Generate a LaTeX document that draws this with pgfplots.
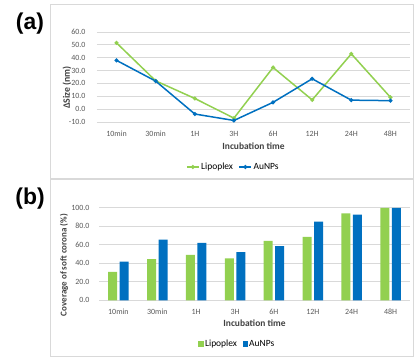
\documentclass[border=0pt]{standalone}
\usepackage{pgfplots}
\pgfplotsset{compat=1.18}
\usepackage{fontspec}
\setmainfont{Carlito}
\newfontfamily\labfont{Liberation Sans}
\definecolor{lgreen}{HTML}{92D050}
\definecolor{lblue}{HTML}{0070C0}
\definecolor{gridc}{HTML}{D9D9D9}
\definecolor{framec}{HTML}{D9D9D9}
\definecolor{tickc}{HTML}{595959}
\definecolor{titc}{HTML}{404040}
\begin{document}
\begin{tikzpicture}
\path[use as bounding box] (0,0) rectangle (417bp,-357bp);
\draw[framec, line width=0.8bp] (50.5bp,-4bp) rectangle (413.5bp,-178bp);
\draw[framec, line width=0.8bp] (50.5bp,-179.5bp) rectangle (413.5bp,-356.5bp);
\node[font=\labfont\bfseries\fontsize{23}{23}\selectfont] at (30bp,-24bp) {(a)};
\node[font=\labfont\bfseries\fontsize{23}{23}\selectfont] at (30bp,-199bp) {(b)};
\pgfplotsset{myax/.style={
  scale only axis,
  xmin=-0.5, xmax=7.5,
  xtick={0,...,7},
  xticklabels={10min,30min,1H,3H,6H,12H,24H,48H},
  axis line style={draw=none},
  major tick length=0pt,
  ymajorgrids,
  grid style={gridc, line width=0.8bp},
  tick label style={font=\fontsize{8}{9}\selectfont, text=tickc},
  /pgf/number format/assume math mode=true,
  yticklabel style={/pgf/number format/fixed, /pgf/number format/precision=1, /pgf/number format/fixed zerofill, anchor=east},
  xticklabel style={anchor=base, yshift=-14bp},
  xlabel={Incubation time},
  xlabel style={font=\bfseries\fontsize{9.5}{11}\selectfont, text=titc, anchor=center},
  legend style={draw=none, font=\fontsize{9.5}{11}\selectfont, anchor=center, inner sep=0pt,
     nodes={inner sep=1.5bp}, /tikz/every even column/.append style={column sep=4bp}},
  legend columns=2,
  clip=false,
}}
\tikzset{ylab/.style={font=\bfseries\fontsize{9}{10}\selectfont, text=titc, anchor=center, rotate=90}}
% ---------- (a) ----------
\begin{axis}[myax,
  at={(97bp,-122bp)}, anchor=south west,
  width=313bp, height=90bp,
  ymin=-10, ymax=60, ytick={-10,0,...,60},
  yticklabel style={xshift=-8bp},
  xlabel style={at={(axis description cs:0.5,-0.267)}},
  legend style={at={(axis description cs:0.435,-0.5)}},
  legend image code/.code={\draw[mark repeat=2,mark phase=2,#1] plot coordinates {(0bp,0bp) (6bp,0bp) (12bp,0bp)};},
]
\addplot[lgreen, line width=1.5bp, mark=*, mark size=1.2bp] coordinates {
(0,51.5) (1,22) (2,8.3) (3,-7) (4,32.4) (5,7.2) (6,43) (7,9.2)};
\addplot[lblue, line width=1.5bp, mark=*, mark size=1.2bp] coordinates {
(0,37.9) (1,21.8) (2,-3.8) (3,-8.8) (4,5.3) (5,23.6) (6,7) (7,6.6)};
\legend{Lipoplex,AuNPs}
\node[ylab, font=\bfseries\fontsize{9.8}{11}\selectfont] at (rel axis cs:-0.096,0.383) {ΔSize (nm)};
\end{axis}
% ---------- (b) ----------
\begin{axis}[myax,
  at={(99bp,-300.3bp)}, anchor=south west,
  width=311bp, height=92.6bp,
  ymin=0, ymax=100, ytick={0,20,...,100},
  yticklabel style={xshift=-6bp},
  ybar=2.6bp, bar width=9bp,
  xlabel style={at={(axis description cs:0.5,-0.248)}},
  legend style={at={(axis description cs:0.444,-0.472)}},
  legend image code/.code={\fill[#1] (0bp,-2.6bp) rectangle (5.2bp,2.6bp);},
]
\addplot[fill=lgreen, draw=none] coordinates {
(0,30.8) (1,44.4) (2,49.1) (3,45.2) (4,64.2) (5,68.5) (6,93.9) (7,99.8)};
\addplot[fill=lblue, draw=none] coordinates {
(0,41.9) (1,65.6) (2,62) (3,52) (4,58.4) (5,85) (6,92.5) (7,99.8)};
\legend{Lipoplex,AuNPs}
\node[ylab] at (rel axis cs:-0.1125,0.38) {Coverage of soft corona (\%)};
\end{axis}
\end{tikzpicture}
\end{document}
